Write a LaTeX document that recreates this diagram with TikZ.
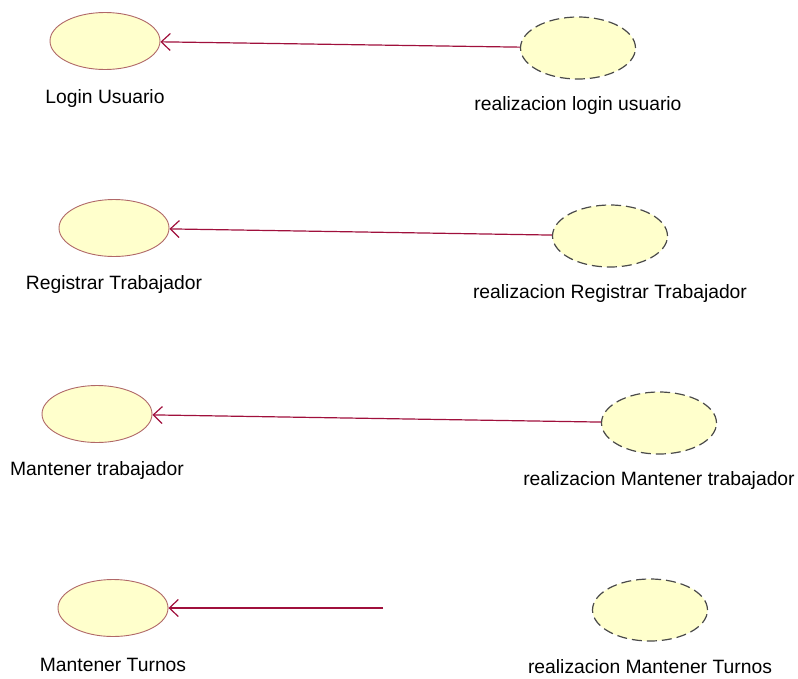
\documentclass[tikz,border=0pt]{standalone}
\usepackage{fontspec}
\setmainfont{Liberation Sans}
\usetikzlibrary{shapes.geometric,arrows.meta}
\definecolor{ucfill}{HTML}{FFFFCC}
\definecolor{ucedge}{HTML}{B06868}
\definecolor{dashedge}{HTML}{4A4A4A}
\definecolor{linkred}{HTML}{A0103C}
\tikzset{
  usecase/.style={ellipse, draw=ucedge, fill=ucfill, line width=0.9pt,
    inner sep=0pt, minimum width=110pt, minimum height=57pt},
  realiz/.style={ellipse, draw=dashedge, fill=ucfill, line width=1.2pt,
    dash pattern=on 10pt off 5pt, inner sep=0pt,
    minimum width=115pt, minimum height=62pt},
  lbl/.style={inner sep=0pt, font=\fontsize{19.3pt}{22pt}\selectfont, text=black},
  link/.style={draw=linkred, line width=1.2pt,
    -{Straight Barb[length=9pt, width=17pt, line width=1.2pt]}}
}
\begin{document}
\begin{tikzpicture}[x=1pt, y=-1pt]
  \useasboundingbox (0,0) rectangle (798,678);

  % use cases on the left
  \node[usecase] (l1) at (105,41) {};
  \node[usecase] (l2) at (114,228) {};
  \node[usecase] (l3) at (97,414) {};
  \node[usecase] (l4) at (113,608) {};
  \node[lbl] (t1) at (105,99) {Login Usuario};
  \node[lbl] (t2) at (114,285) {Registrar Trabajador};
  \node[lbl] (t3) at (97,471) {Mantener trabajador};
  \node[lbl] (t4) at (113,665) {Mantener Turnos};

  % realizations on the right
  \node[realiz] (r1) at (578,48) {};
  \node[realiz] (r2) at (610,236) {};
  \node[realiz] (r3) at (659,423) {};
  \node[realiz] (r4) at (650,610) {};
  \node[lbl] (s1) at (578,106) {realizacion login usuario};
  \node[lbl] (s2) at (610,294) {realizacion Registrar Trabajador};
  \node[lbl] (s3) at (659,481) {realizacion Mantener trabajador};
  \node[lbl] (s4) at (650,667) {realizacion Mantener Turnos};

  % realization links
  \draw[link] (r1) -- (l1);
  \draw[link] (r2) -- (l2);
  \draw[link] (r3) -- (l3);
  \coordinate (e4) at (383,608);
  \draw[link] (e4) -- (l4);
\end{tikzpicture}
\end{document}
